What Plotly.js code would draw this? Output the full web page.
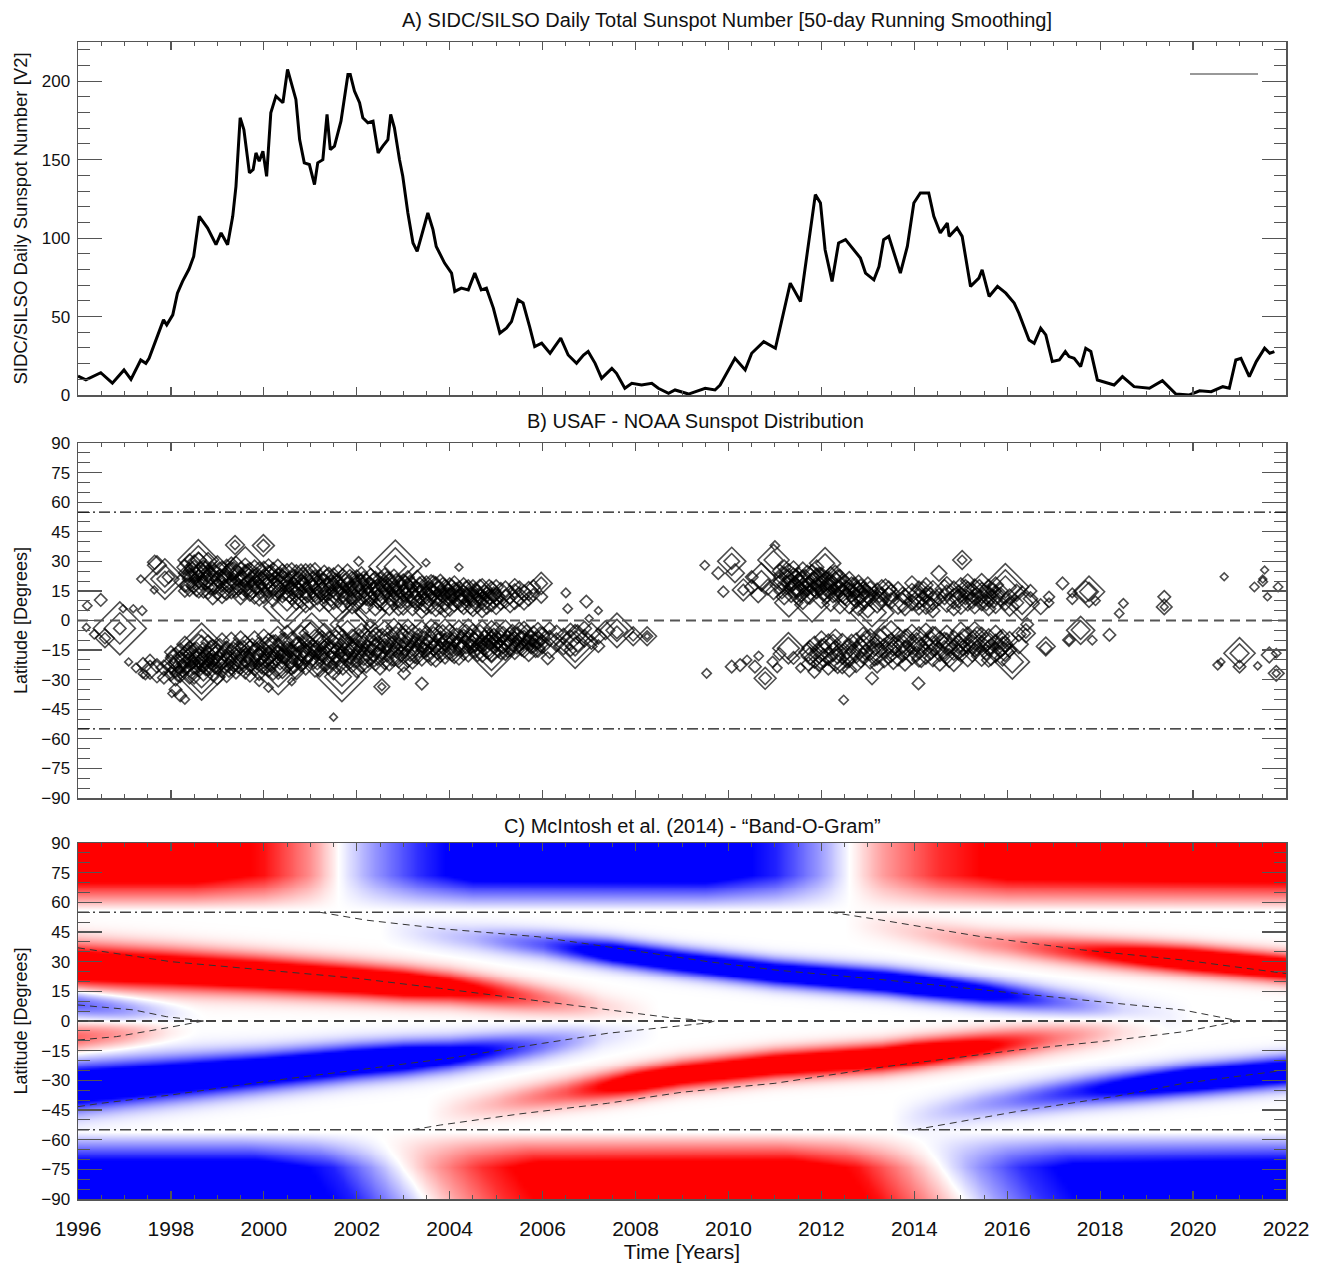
<!DOCTYPE html>
<html><head><meta charset="utf-8">
<script src="https://cdn.plot.ly/plotly-3.0.1.min.js"></script>
<style>html,body{margin:0;padding:0;background:#fff}#chart{width:1327px;height:1268px}</style>
</head><body><div id="chart"></div>
<script>
// ---------------- Panel A: SIDC/SILSO smoothed sunspot number ----------------
const ssnYear = [1996.0,1996.17,1996.49,1996.74,1996.99,1997.14,1997.35,1997.46,1997.53,1997.78,1997.84,1997.91,1998.04,1998.14,1998.25,1998.39,1998.49,1998.61,1998.79,1998.97,1999.08,1999.22,1999.33,1999.4,1999.49,1999.57,1999.69,1999.77,1999.83,1999.9,1999.98,2000.06,2000.15,2000.26,2000.41,2000.51,2000.59,2000.69,2000.77,2000.87,2000.98,2001.09,2001.16,2001.27,2001.36,2001.43,2001.52,2001.66,2001.81,2001.86,2001.95,2002.06,2002.13,2002.24,2002.35,2002.46,2002.56,2002.67,2002.73,2002.81,2002.92,2002.99,2003.1,2003.21,2003.3,2003.43,2003.53,2003.64,2003.71,2003.89,2004.04,2004.11,2004.25,2004.4,2004.54,2004.68,2004.79,2004.94,2005.08,2005.22,2005.33,2005.47,2005.58,2005.72,2005.83,2005.98,2006.16,2006.26,2006.39,2006.55,2006.73,2006.88,2006.98,2007.13,2007.27,2007.49,2007.59,2007.77,2007.92,2008.13,2008.35,2008.49,2008.71,2008.85,2009.14,2009.5,2009.71,2009.82,2010.14,2010.36,2010.5,2010.76,2011.01,2011.15,2011.33,2011.55,2011.69,2011.87,2011.98,2012.08,2012.23,2012.37,2012.52,2012.66,2012.84,2012.95,2013.13,2013.24,2013.34,2013.45,2013.59,2013.7,2013.85,2013.99,2014.13,2014.31,2014.42,2014.56,2014.71,2014.75,2014.92,2015.03,2015.21,2015.39,2015.46,2015.61,2015.79,2015.97,2016.15,2016.25,2016.47,2016.58,2016.72,2016.83,2016.97,2017.12,2017.25,2017.33,2017.44,2017.58,2017.69,2017.8,2017.94,2018.16,2018.3,2018.48,2018.73,2019.06,2019.34,2019.63,2019.92,2020.14,2020.39,2020.64,2020.78,2020.92,2021.03,2021.21,2021.36,2021.54,2021.65,2021.75];
const ssnValue = [12.1,9.6,14.2,7.5,16,10,22.3,20.2,23.4,43.6,47.9,44.7,51.1,64.9,72.4,80.3,88.3,113.9,106.4,95.8,103.3,95.8,113.9,133,176.7,169.2,141.6,143.7,154.3,149,155.4,139.4,179.9,190.5,186.3,207.5,199,188.4,162.8,148,146.9,134.1,148,150,178.8,156.4,158.6,174.5,204.3,204.3,193.7,186.3,176.7,173.5,174.5,154.3,158.6,162.8,178.8,170.3,150,139.4,116,96.9,91.5,105.4,116,105.4,94.7,84.1,77.7,66,68.1,67,77.7,67,68.1,55.4,39.4,42.6,46.8,60.7,58.6,43.6,30.8,33,26.6,30.8,36.2,25.5,20.2,25.5,27.7,20.2,10.6,17,13.8,4.3,7.5,6.4,7.5,4.3,1.1,3.2,0.6,4.3,3.2,6.4,23.4,16,26.6,34,29.8,47.9,71.3,59.6,90.5,127.7,122.4,92.6,72.4,96.9,99,93.7,87.3,77.7,73.4,81.9,99,101.1,88.3,77.7,94.7,122.4,128.8,128.8,113.9,103.3,109.6,101.1,106.4,101.1,69.2,74.5,79.8,62.8,69.2,64.9,58.6,52.2,35.1,33,42.6,38.3,21.3,22.3,27.7,24.5,23.4,18.1,29.8,27.7,9.6,7.9,6.4,11.7,5.3,4.3,9.1,0.6,0,2.7,2.1,5.3,4.3,22.3,23.4,11.7,21.3,29.8,26.6,27.7];

// ---------------- Panel B: USAF-NOAA sunspot groups [year, latitude, size] ----------------
const spotsNorth23 = [
[1998.30,27,10],[1998.30,20,14],[1998.30,15,8],[1998.40,29,12],[1998.40,23,9],[1998.40,17,12],
[1998.50,25,14],[1998.50,18,10],[1998.50,30,8],[1998.60,28,16],[1998.60,21,12],[1998.60,15,9],
[1998.70,24,10],[1998.70,17,14],[1998.70,27,9],[1998.80,30,11],[1998.80,22,15],[1998.80,14,8],
[1998.90,26,9],[1998.90,19,13],[1998.90,12,10],[1999.00,28,12],[1999.00,21,10],[1999.00,16,14],
[1999.10,24,15],[1999.10,18,9],[1999.10,13,11],[1999.20,27,10],[1999.20,20,13],[1999.20,14,9],
[1999.30,25,12],[1999.30,17,15],[1999.30,29,8],[1999.40,22,11],[1999.40,15,9],[1999.40,27,14],
[1999.50,26,9],[1999.50,19,14],[1999.50,12,10],[1999.60,23,13],[1999.60,16,10],[1999.60,28,9],
[1999.70,25,11],[1999.70,18,15],[1999.70,13,8],[1999.80,27,9],[1999.80,21,12],[1999.80,14,14],
[1999.90,24,14],[1999.90,17,10],[1999.90,11,9],[2000.00,26,10],[2000.00,19,13],[2000.00,13,11],
[2000.10,22,15],[2000.10,15,9],[2000.10,28,8],[2000.20,25,11],[2000.20,18,14],[2000.20,11,10],
[2000.30,23,9],[2000.30,16,12],[2000.30,27,10],[2000.40,20,14],[2000.40,13,10],[2000.40,25,9],
[2000.50,24,12],[2000.50,17,9],[2000.50,10,13],[2000.60,21,10],[2000.60,14,15],[2000.60,26,8],
[2000.70,23,13],[2000.70,16,10],[2000.70,9,9],[2000.80,19,11],[2000.80,12,14],[2000.80,25,9],
[2000.90,22,9],[2000.90,15,12],[2000.90,8,10],[2001.00,24,12],[2001.00,18,10],[2001.00,11,14],
[2001.10,20,14],[2001.10,13,9],[2001.10,26,8],[2001.20,22,10],[2001.20,16,13],[2001.20,9,11],
[2001.30,19,12],[2001.30,12,9],[2001.30,24,10],[2001.40,21,15],[2001.40,14,10],[2001.40,8,9],
[2001.50,23,9],[2001.50,17,13],[2001.50,10,11],[2001.60,19,11],[2001.60,12,14],[2001.60,25,8],
[2001.70,21,13],[2001.70,15,9],[2001.70,8,10],[2001.80,18,10],[2001.80,11,12],[2001.80,23,14],
[2001.90,20,12],[2001.90,14,15],[2001.90,7,9],[2002.00,22,9],[2002.00,16,11],[2002.00,10,13],
[2002.10,18,14],[2002.10,12,10],[2002.10,24,8],[2002.20,20,10],[2002.20,13,13],[2002.20,7,9],
[2002.30,17,12],[2002.30,11,9],[2002.30,22,11],[2002.40,19,15],[2002.40,13,10],[2002.40,6,9],
[2002.50,21,9],[2002.50,15,13],[2002.50,9,10],[2002.60,17,11],[2002.60,10,14],[2002.60,23,9],
[2002.70,19,13],[2002.70,13,9],[2002.70,7,11],[2002.80,16,10],[2002.80,10,12],[2002.80,22,10],
[2002.90,18,12],[2002.90,12,14],[2002.90,6,9],[2003.00,20,9],[2003.00,14,11],[2003.00,8,13],
[2003.10,16,13],[2003.10,10,9],[2003.10,22,8],[2003.20,18,10],[2003.20,12,13],[2003.20,6,9],
[2003.30,15,12],[2003.30,9,10],[2003.30,21,11],[2003.40,17,14],[2003.40,11,9],[2003.40,5,10],
[2003.50,19,9],[2003.50,13,12],[2003.50,7,10],[2003.60,15,11],[2003.60,9,14],[2003.60,20,8],
[2003.70,17,13],[2003.70,11,9],[2003.70,6,10],[2003.80,14,10],[2003.80,8,12],[2003.80,19,11],
[2003.90,16,12],[2003.90,10,14],[2003.90,5,9],[2004.00,18,9],[2004.00,12,11],[2004.00,7,12],
[2004.10,14,13],[2004.10,8,9],[2004.10,19,9],[2004.20,16,10],[2004.20,11,13],
[2004.30,13,12],[2004.30,7,10],[2004.30,18,9],[2004.40,15,14],[2004.40,10,9],
[2004.50,17,9],[2004.50,12,12],[2004.50,6,10],[2004.60,14,11],[2004.60,9,13],
[2004.70,16,13],[2004.70,11,9],[2004.70,5,9],[2004.80,13,10],[2004.80,8,12],
[2004.90,15,12],[2004.90,10,14],[2005.00,17,9],[2005.00,12,11],[2005.00,7,10],
[2005.10,14,13],[2005.10,9,9],[2005.20,16,10],[2005.20,11,12],[2005.30,13,12],[2005.30,8,10],
[2005.40,15,9],[2005.40,10,11],[2005.40,18,8],[2005.50,12,12],[2005.50,16,10],
[2005.60,14,10],[2005.60,9,9],[2005.70,11,9],[2005.70,15,12],[2005.80,13,8],[2005.80,17,9]
];
const spotsNorth23Core = [
[1998.35,24,11],[1998.35,18,9],[1998.45,21,12],[1998.45,26,9],[1998.55,23,10],[1998.55,17,12],[1998.65,25,12],[1998.65,19,9],
[1998.75,20,11],[1998.75,26,10],[1998.85,23,12],[1998.85,17,10],[1998.95,24,10],[1998.95,18,12],[1999.05,21,12],[1999.05,26,9],
[1999.15,22,10],[1999.15,16,12],[1999.25,24,12],[1999.25,18,10],[1999.35,20,10],[1999.35,25,12],[1999.45,23,12],[1999.45,17,10],
[1999.55,21,10],[1999.55,15,12],[1999.65,24,12],[1999.65,19,10],[1999.75,21,11],[1999.75,16,12],[1999.85,23,10],[1999.85,18,12],
[1999.95,20,12],[1999.95,15,10],[2000.05,22,10],[2000.05,17,12],[2000.15,19,12],[2000.15,24,10],[2000.25,21,10],[2000.25,15,12],
[2000.35,19,12],[2000.35,23,10],[2000.45,21,10],[2000.45,15,12],[2000.55,19,12],[2000.55,13,10],[2000.65,22,10],[2000.65,17,12],
[2000.75,20,12],[2000.75,15,10],[2000.85,18,10],[2000.85,22,12],[2000.95,19,12],[2000.95,13,10],[2001.05,21,10],[2001.05,16,12],
[2001.15,18,12],[2001.15,12,10],[2001.25,20,10],[2001.25,15,12],[2001.35,17,12],[2001.35,22,10],[2001.45,19,10],[2001.45,12,12],
[2001.55,15,12],[2001.55,20,10],[2001.65,17,10],[2001.65,13,12],[2001.75,19,12],[2001.75,12,10],[2001.85,16,10],[2001.85,21,12],
[2001.95,18,12],[2001.95,12,10],[2002.05,14,10],[2002.05,19,12],[2002.15,16,12],[2002.15,21,10],[2002.25,18,10],[2002.25,12,12],
[2002.35,15,12],[2002.35,20,10],[2002.45,17,10],[2002.45,11,12],[2002.55,13,12],[2002.55,18,10],[2002.65,15,10],[2002.65,20,12],
[2002.75,17,12],[2002.75,11,10],[2002.85,14,10],[2002.85,19,12],[2002.95,16,12],[2002.95,10,10],[2003.05,13,10],[2003.05,18,12],
[2003.15,14,12],[2003.15,19,10],[2003.25,16,10],[2003.25,11,12],[2003.35,13,12],[2003.35,18,10],[2003.45,15,10],[2003.45,9,12],
[2003.55,12,12],[2003.55,16,10],[2003.65,14,10],[2003.65,18,12],[2003.75,12,12],[2003.75,16,10],[2003.85,13,10],[2003.85,17,12],
[2003.95,12,12],[2003.95,15,10],[2004.05,13,10],[2004.05,16,12],[2004.15,11,12],[2004.15,15,10],[2004.25,13,10],[2004.25,9,12],
[2004.35,12,12],[2004.35,16,10],[2004.45,13,10],[2004.45,8,12],[2004.55,11,12],[2004.55,15,10],[2004.65,12,10],[2004.65,16,12],
[2004.75,10,12],[2004.75,14,10],[2004.85,12,10],[2004.85,16,12],[2004.95,11,12],[2004.95,13,10]
];
const spotsNorth23Extra = [
[1996.2,7.5,6],[1996.49,10.4,8],[1996.97,6,5],[1997.19,6,5],[1997.38,5,6],[1997.35,21,5],[1997.64,15.5,5],
[1997.65,29.5,9],[1997.7,28,12],[1997.87,21,10],[1997.87,21,18],[1997.87,21,26],[1997.95,22,8],
[1998.59,30.7,10],[1998.59,30.7,18],[1998.59,30.7,26],[1999.38,38.3,12],[1999.38,38.3,6],
[1999.99,38,8],[1999.99,38,14],[2000.46,7,18],[2000.46,7,28],[1999.6,27,26],[2000.9,20,22],
[2001.6,9,24],[2002.3,4,20],[2002.83,27.3,14],[2002.83,27.3,24],[2002.83,27.3,34],
[2002.04,30,6],[2003.49,29.3,5],[2004.2,27,5],[2005.97,18.8,8],[2005.97,18.8,14],[2005.97,12,8],
[2006.54,6,6],[2006.94,9.6,8],[2007.2,5,5],[2007.0,1,5],[2006.5,14,6]
];
const spotsSouth23 = [
[1997.40,-22,8],[1997.40,-27,6],[1997.55,-25,12],[1997.55,-20,7],[1997.70,-26,14],[1997.70,-23,9],
[1997.85,-24,10],[1997.85,-29,8],[1998.00,-22,12],[1998.00,-27,9],[1998.00,-16,8],
[1998.10,-25,10],[1998.10,-19,13],[1998.10,-30,8],[1998.20,-21,14],[1998.20,-15,9],[1998.20,-27,11],
[1998.30,-24,9],[1998.30,-18,12],[1998.30,-12,10],[1998.40,-27,13],[1998.40,-20,10],[1998.40,-14,9],
[1998.50,-23,11],[1998.50,-17,14],[1998.50,-29,8],[1998.60,-25,9],[1998.60,-19,12],[1998.60,-12,13],
[1998.70,-21,14],[1998.70,-15,10],[1998.70,-27,9],[1998.80,-24,10],[1998.80,-18,13],[1998.80,-11,9],
[1998.90,-26,12],[1998.90,-20,9],[1998.90,-14,11],[1999.00,-22,13],[1999.00,-16,10],[1999.00,-29,9],
[1999.10,-25,10],[1999.10,-19,14],[1999.10,-10,9],[1999.20,-21,12],[1999.20,-14,9],[1999.20,-27,11],
[1999.30,-24,9],[1999.30,-17,13],[1999.30,-10,10],[1999.40,-20,14],[1999.40,-13,10],[1999.40,-26,9],
[1999.50,-23,11],[1999.50,-16,13],[1999.50,-9,9],[1999.60,-26,9],[1999.60,-19,12],[1999.60,-12,11],
[1999.70,-21,13],[1999.70,-14,10],[1999.70,-28,8],[1999.80,-24,10],[1999.80,-17,14],[1999.80,-9,9],
[1999.90,-19,12],[1999.90,-12,9],[1999.90,-26,11],[2000.00,-22,14],[2000.00,-15,10],[2000.00,-8,9],
[2000.10,-25,9],[2000.10,-18,13],[2000.10,-11,11],[2000.20,-20,11],[2000.20,-13,14],[2000.20,-27,8],
[2000.30,-23,13],[2000.30,-16,9],[2000.30,-7,10],[2000.40,-18,10],[2000.40,-11,12],[2000.40,-25,11],
[2000.50,-21,14],[2000.50,-14,10],[2000.50,-6,9],[2000.60,-24,9],[2000.60,-17,13],[2000.60,-10,11],
[2000.70,-19,12],[2000.70,-12,9],[2000.70,-26,10],[2000.80,-22,10],[2000.80,-15,14],[2000.80,-6,9],
[2000.90,-17,13],[2000.90,-10,10],[2000.90,-24,9],[2001.00,-20,11],[2001.00,-13,12],[2001.00,-5,10],
[2001.10,-23,14],[2001.10,-16,9],[2001.10,-9,11],[2001.20,-18,10],[2001.20,-11,13],[2001.20,-25,9],
[2001.30,-21,12],[2001.30,-14,10],[2001.30,-5,9],[2001.40,-16,14],[2001.40,-9,9],[2001.40,-23,11],
[2001.50,-19,9],[2001.50,-12,12],[2001.50,-26,10],[2001.60,-22,13],[2001.60,-15,10],[2001.60,-6,9],
[2001.70,-17,11],[2001.70,-10,14],[2001.70,-24,9],[2001.80,-20,10],[2001.80,-13,12],[2001.80,-4,10],
[2001.90,-15,13],[2001.90,-8,9],[2001.90,-22,11],[2002.00,-18,9],[2002.00,-11,12],[2002.00,-25,10],
[2002.10,-21,14],[2002.10,-14,10],[2002.10,-5,9],[2002.20,-16,11],[2002.20,-9,13],[2002.20,-23,9],
[2002.30,-19,10],[2002.30,-12,12],[2002.30,-3,9],[2002.40,-14,13],[2002.40,-7,9],[2002.40,-21,11],
[2002.50,-17,9],[2002.50,-10,14],[2002.50,-24,9],[2002.60,-20,12],[2002.60,-13,10],[2002.60,-4,10],
[2002.70,-15,10],[2002.70,-8,13],[2002.70,-22,9],[2002.80,-18,13],[2002.80,-11,9],[2002.80,-3,10],
[2002.90,-13,11],[2002.90,-6,12],[2002.90,-20,10],[2003.00,-16,9],[2003.00,-9,13],[2003.00,-23,8],
[2003.10,-19,12],[2003.10,-12,10],[2003.10,-3,9],[2003.20,-14,10],[2003.20,-7,13],[2003.20,-21,9],
[2003.30,-17,13],[2003.30,-10,9],[2003.40,-12,11],[2003.40,-5,12],[2003.40,-19,10],
[2003.50,-15,9],[2003.50,-8,13],[2003.60,-18,12],[2003.60,-11,10],[2003.60,-3,9],
[2003.70,-13,10],[2003.70,-6,13],[2003.70,-20,9],[2003.80,-16,13],[2003.80,-9,9],
[2003.90,-11,11],[2003.90,-4,12],[2003.90,-18,10],[2004.00,-14,9],[2004.00,-7,13],
[2004.10,-17,12],[2004.10,-10,10],[2004.20,-12,10],[2004.20,-5,13],[2004.20,-19,9],
[2004.30,-15,13],[2004.30,-8,9],[2004.40,-10,11],[2004.40,-4,12],[2004.40,-17,10],
[2004.50,-13,9],[2004.50,-7,13],[2004.60,-16,12],[2004.60,-9,10],[2004.70,-11,10],[2004.70,-5,13],[2004.70,-18,8],
[2004.80,-14,13],[2004.80,-7,9],[2004.90,-10,11],[2004.90,-16,12],[2004.90,-4,10],
[2005.00,-12,9],[2005.00,-6,13],[2005.10,-15,12],[2005.10,-9,10],[2005.20,-11,10],[2005.20,-5,13],[2005.20,-17,8],
[2005.30,-13,13],[2005.30,-7,9],[2005.40,-10,11],[2005.40,-15,12],[2005.50,-12,9],[2005.50,-6,13],
[2005.60,-14,12],[2005.60,-9,10],[2005.60,-4,9],[2005.70,-11,10],[2005.70,-16,12],[2005.80,-8,13],[2005.80,-13,9],
[2005.90,-10,11],[2005.90,-5,10],[2005.90,-15,9],[2006.00,-12,12],[2006.00,-7,9],
[2006.15,-9,10],[2006.15,-14,13],[2006.15,-4,8],[2006.30,-11,12],[2006.30,-6,9],
[2006.45,-8,10],[2006.45,-13,11],[2006.60,-10,13],[2006.60,-5,9],[2006.60,-15,8],
[2006.75,-12,10],[2006.75,-7,12],[2006.90,-9,11],[2006.90,-4,9],[2007.05,-11,9],[2007.05,-6,12],
[2007.20,-8,10],[2007.20,-13,8],[2007.35,-5,12],[2007.60,-5,14],[2007.60,-5,22],[2007.60,-6,8],
[2007.95,-8,12],[2007.95,-8,6],[2008.25,-8,12],[2008.25,-8,7],[2008.25,-8,4]
];
const spotsSouth23Core = [
[1998.05,-23,11],[1998.05,-18,9],[1998.15,-22,12],[1998.15,-27,10],[1998.25,-20,10],[1998.25,-24,12],[1998.35,-22,12],[1998.35,-16,10],
[1998.45,-21,10],[1998.45,-25,12],[1998.55,-20,12],[1998.55,-15,10],[1998.65,-22,10],[1998.65,-18,12],[1998.75,-19,12],[1998.75,-24,10],
[1998.85,-21,10],[1998.85,-15,12],[1998.95,-18,12],[1998.95,-23,10],[1999.05,-20,10],[1999.05,-14,12],[1999.15,-22,12],[1999.15,-17,10],
[1999.25,-19,10],[1999.25,-24,12],[1999.35,-21,12],[1999.35,-15,10],[1999.45,-18,10],[1999.45,-22,12],[1999.55,-20,12],[1999.55,-14,10],
[1999.65,-17,10],[1999.65,-23,12],[1999.75,-19,12],[1999.75,-13,10],[1999.85,-21,10],[1999.85,-16,12],[1999.95,-18,12],[1999.95,-23,10],
[2000.05,-20,10],[2000.05,-13,12],[2000.15,-17,12],[2000.15,-22,10],[2000.25,-19,10],[2000.25,-12,12],[2000.35,-16,12],[2000.35,-21,10],
[2000.45,-18,10],[2000.45,-11,12],[2000.55,-20,12],[2000.55,-15,10],[2000.65,-16,10],[2000.65,-22,12],[2000.75,-18,12],[2000.75,-12,10],
[2000.85,-15,10],[2000.85,-20,12],[2000.95,-17,12],[2000.95,-11,10],[2001.05,-19,10],[2001.05,-14,12],[2001.15,-15,12],[2001.15,-21,10],
[2001.25,-17,10],[2001.25,-10,12],[2001.35,-18,12],[2001.35,-13,10],[2001.45,-15,10],[2001.45,-20,12],[2001.55,-17,12],[2001.55,-9,10],
[2001.65,-13,10],[2001.65,-19,12],[2001.75,-16,12],[2001.75,-11,10],[2001.85,-18,10],[2001.85,-13,12],[2001.95,-14,12],[2001.95,-20,10],
[2002.05,-16,10],[2002.05,-9,12],[2002.15,-18,12],[2002.15,-12,10],[2002.25,-14,10],[2002.25,-19,12],[2002.35,-16,12],[2002.35,-9,10],
[2002.45,-12,10],[2002.45,-18,12],[2002.55,-15,12],[2002.55,-8,10],[2002.65,-17,10],[2002.65,-11,12],[2002.75,-13,12],[2002.75,-19,10],
[2002.85,-15,10],[2002.85,-8,12],[2002.95,-11,12],[2002.95,-17,10],[2003.05,-14,10],[2003.05,-7,12],[2003.15,-16,12],[2003.15,-10,10],
[2003.25,-12,10],[2003.25,-17,12],[2003.35,-14,12],[2003.35,-8,10],[2003.45,-15,10],[2003.45,-10,12],[2003.55,-12,12],[2003.55,-17,10],
[2003.65,-14,10],[2003.65,-8,12],[2003.75,-11,12],[2003.75,-16,10],[2003.85,-13,10],[2003.85,-7,12],[2003.95,-15,12],[2003.95,-10,10],
[2004.05,-11,10],[2004.05,-16,12],[2004.15,-13,12],[2004.15,-8,10],[2004.25,-14,10],[2004.25,-10,12],[2004.35,-12,12],[2004.35,-6,10],
[2004.45,-13,10],[2004.45,-9,12],[2004.55,-11,12],[2004.55,-15,10],[2004.65,-12,10],[2004.65,-7,12],[2004.75,-13,12],[2004.75,-9,10],
[2004.85,-11,10],[2004.85,-15,12],[2004.95,-12,12],[2004.95,-8,10],[2005.05,-10,10],[2005.05,-14,12],[2005.15,-12,12],[2005.15,-7,10],
[2005.25,-9,10],[2005.25,-14,12],[2005.35,-11,12],[2005.35,-6,10],[2005.45,-13,10],[2005.45,-8,12],[2005.55,-10,12],[2005.55,-14,10],
[2005.65,-11,10],[2005.65,-7,12],[2005.75,-12,12],[2005.75,-9,10],[2005.85,-10,10],[2005.85,-14,12],[2005.95,-8,12],[2005.95,-12,10]
];
const spotsSouth23Extra = [
[1996.18,-3.5,5],[1996.35,-7,6],[1996.58,-9,12],[1996.58,-9,7],[1996.9,-4,8],[1996.9,-4,20],[1996.9,-4,34],
[1997.09,-21,5],[1997.25,-24,6],[1997.45,-27.6,6],[1998.1,-35,8],[1998.2,-38,8],[1998.3,-40,6],[1998.02,-37,5],
[1998.66,-12.4,12],[1998.66,-12.4,20],[1998.66,-12.4,28],[1998.66,-28.5,14],[1998.66,-28.5,22],[1998.66,-28.5,30],
[2000.31,-23.4,16],[2000.31,-23.4,26],[2000.31,-23.4,36],[2001.68,-28.5,12],[2001.68,-28.5,22],[2001.68,-28.5,32],
[2001.03,-6.5,16],[2001.03,-6.5,26],[2001.9,-2,20],[2001.9,-2,28],
[2004.9,-16.6,12],[2004.9,-16.6,22],[2004.9,-16.6,30],[2006.7,-13.2,12],[2006.7,-13.2,20],[2006.7,-13.2,28],
[2002.54,-33.6,10],[2002.54,-33.6,5],[2001.5,-49,5],[2000.1,-34,6],[2003.4,-32,8],[2006.11,-19.2,8],
[2003.02,-26.8,8],[1999.9,-31,6],[2000.6,-31,5]
];
const spotsNorth24 = [
[2009.49,28,6],[2009.78,24,8],[2009.89,14.6,7],[2010.07,30,10],[2010.07,30,18],[2010.14,24,12],
[2010.32,15.5,14],[2010.32,15.5,7],[2010.5,22,8],[2010.5,17,9],[2010.64,13,10],[2010.71,20.5,12],[2010.71,22,18],
[2010.85,17,10],[2010.97,30.7,12],[2010.97,30.7,20],[2010.97,14.6,10],[2011.0,38,6],
[2011.10,25,9],[2011.10,18,12],[2011.20,22,13],[2011.20,12,10],[2011.20,27,9],
[2011.30,19,10],[2011.30,9,18],[2011.30,24,12],[2011.40,16,12],[2011.40,21,14],[2011.40,27,8],
[2011.50,23,10],[2011.50,13,13],[2011.50,18,15],[2011.60,20,14],[2011.60,26,9],[2011.60,10,11],
[2011.70,17,12],[2011.70,22,15],[2011.70,12,9],[2011.80,24,11],[2011.80,19,13],[2011.80,8,22],
[2011.90,21,14],[2011.90,15,10],[2011.90,27,9],[2012.00,18,13],[2012.00,23,10],[2012.00,11,12],
[2012.10,20,12],[2012.10,14,14],[2012.08,29,20],[2012.08,29,12],[2012.20,17,10],[2012.20,22,13],[2012.20,9,11],
[2012.30,19,14],[2012.30,13,9],[2012.30,24,10],[2012.40,16,11],[2012.40,21,12],[2012.40,7,9],
[2012.50,18,13],[2012.50,12,10],[2012.60,15,10],[2012.60,20,12],[2012.60,9,14],
[2012.70,17,12],[2012.70,11,9],[2012.80,14,14],[2012.80,19,10],[2012.80,6,9],
[2012.90,16,9],[2012.90,10,12],[2013.00,13,12],[2013.00,18,10],[2013.00,5,9],
[2013.09,4,18],[2013.09,4,28],[2013.20,15,10],[2013.20,9,13],[2013.30,12,12],[2013.30,17,9],
[2013.38,15.5,14],[2013.50,10,10],[2013.50,14,11],[2013.65,8,12],[2013.65,16,9],[2013.80,12,10],[2013.80,6,9],
[2013.95,14,12],[2013.95,9,10],[2013.95,19,9],[2014.10,11,13],[2014.10,16,10],[2014.10,6,8],
[2014.25,13,10],[2014.25,8,12],[2014.25,18,9],[2014.40,10,12],[2014.40,15,13],[2014.40,5,9],
[2014.53,23.9,10],[2014.53,12,11],[2014.70,14,10],[2014.70,9,12],[2014.70,19,8],
[2014.85,11,13],[2014.85,6,9],[2014.85,16,10],[2015.03,30.7,12],[2015.03,30.7,6],
[2015.00,13,10],[2015.00,8,12],[2015.00,18,9],[2015.15,15,12],[2015.15,10,13],[2015.15,20,9],
[2015.30,12,11],[2015.30,17,10],[2015.30,7,9],[2015.45,14,13],[2015.45,9,10],[2015.45,19,12],
[2015.60,11,10],[2015.60,16,12],[2015.60,6,9],[2015.75,13,12],[2015.75,18,10],[2015.75,8,11],
[2015.96,17,14],[2015.96,17,22],[2015.96,17,30],[2016.05,12,10],[2016.05,7,12],[2016.20,14,11],[2016.20,9,9],
[2016.32,8.7,14],[2016.32,8.7,22],[2016.50,11,9],[2016.50,15,8],[2016.72,7,10],[2016.90,12,7],[2016.90,9,6],
[2017.19,18.8,8],[2017.40,11,7],[2017.40,14,6],[2017.69,14.6,14],[2017.76,14.6,20],[2017.76,14.6,12],
[2017.90,10,6],[2018.41,3.6,6],[2018.5,8.7,6],[2019.38,6.9,10],[2019.38,6.9,5],[2019.38,12,8],
[2020.67,22.2,5],[2021.32,17,6],[2021.5,19.7,6],[2021.5,21,5],[2021.54,25.6,5],[2021.6,12,5],[2021.83,17,6]
];
const spotsNorth24Core = [
[2011.15,20,11],[2011.15,15,10],[2011.25,18,12],[2011.25,22,10],[2011.35,20,10],[2011.35,14,12],[2011.45,17,12],[2011.45,22,10],
[2011.55,19,10],[2011.55,14,12],[2011.65,21,12],[2011.65,16,10],[2011.75,18,10],[2011.75,13,12],[2011.85,20,12],[2011.85,16,10],
[2011.95,17,10],[2011.95,22,12],[2012.05,19,12],[2012.05,14,10],[2012.15,15,10],[2012.15,20,12],[2012.25,18,12],[2012.25,13,10],
[2012.35,16,10],[2012.35,21,12],[2012.45,14,12],[2012.45,18,10],[2012.55,16,10],[2012.55,12,12],[2012.65,14,12],[2012.65,18,10],
[2012.75,16,10],[2012.75,11,12],[2012.85,13,12],[2012.85,17,10],[2012.95,15,10],[2012.95,11,12],[2013.05,12,12],[2013.05,16,10],
[2013.25,13,10],[2013.25,10,12],[2013.45,12,12],[2013.45,16,10],[2013.75,13,10],[2013.75,9,12],[2014.05,13,12],[2014.05,9,10],
[2014.2,11,10],[2014.2,15,12],[2014.35,12,12],[2014.35,8,10],[2014.65,12,10],[2014.65,16,12],[2014.95,11,12],[2014.95,14,10],
[2015.1,12,10],[2015.1,16,12],[2015.25,14,12],[2015.25,10,10],[2015.4,11,10],[2015.4,16,12],[2015.55,13,12],[2015.55,9,10],
[2015.7,15,10],[2015.7,11,12],[2015.85,12,12],[2015.85,15,10]
];
const spotsSouth24 = [
[2009.53,-26.8,6],[2010.07,-23.4,8],[2010.25,-22.6,8],[2010.4,-20,6],[2010.57,-23.4,8],[2010.65,-18,6],
[2010.79,-29.3,14],[2010.79,-29.3,8],[2010.95,-21,7],[2011.05,-24,6],[2011.10,-17,8],
[2011.29,-14.1,14],[2011.29,-14.1,20],[2011.40,-19,8],[2011.55,-24,6],
[2011.72,-16,12],[2011.72,-22,9],[2011.85,-12,10],[2011.85,-19,13],[2011.85,-26,8],
[2012.00,-15,14],[2012.00,-21,10],[2012.00,-9,9],[2012.15,-18,12],[2012.15,-24,9],[2012.15,-12,13],
[2012.30,-14,10],[2012.30,-20,14],[2012.30,-8,9],[2012.45,-17,13],[2012.45,-23,10],[2012.45,-11,11],
[2012.48,-40.3,6],[2012.60,-13,10],[2012.60,-19,12],[2012.60,-25,9],[2012.75,-16,14],[2012.75,-10,9],[2012.75,-22,11],
[2012.90,-12,12],[2012.90,-18,10],[2012.90,-7,9],[2013.05,-15,13],[2013.05,-21,9],[2013.05,-9,12],
[2013.09,-29.3,8],[2013.20,-11,10],[2013.20,-17,14],[2013.20,-23,9],[2013.35,-14,12],[2013.35,-8,13],[2013.35,-20,10],
[2013.50,-10,9],[2013.50,-16,13],[2013.50,-5,12],[2013.65,-13,14],[2013.65,-19,10],[2013.65,-7,9],
[2013.80,-9,11],[2013.80,-15,12],[2013.80,-22,9],[2013.95,-12,13],[2013.95,-6,10],[2013.95,-18,11],
[2014.09,-31.9,8],[2014.10,-8,12],[2014.10,-14,14],[2014.10,-20,9],[2014.25,-11,10],[2014.25,-17,13],[2014.25,-5,9],
[2014.40,-13,13],[2014.40,-7,10],[2014.40,-19,11],[2014.55,-10,11],[2014.55,-16,12],[2014.55,-22,9],
[2014.70,-12,14],[2014.70,-6,9],[2014.70,-18,10],[2014.85,-9,10],[2014.85,-15,13],[2014.85,-21,12],
[2015.00,-11,12],[2015.00,-17,10],[2015.00,-6,13],[2015.15,-13,10],[2015.15,-8,12],[2015.15,-19,11],
[2015.30,-10,13],[2015.30,-15,9],[2015.30,-5,11],[2015.45,-12,11],[2015.45,-18,13],[2015.45,-7,9],
[2015.60,-9,12],[2015.60,-14,10],[2015.60,-20,9],[2015.75,-11,10],[2015.75,-16,13],[2015.75,-6,9],
[2015.90,-13,12],[2015.90,-8,9],[2015.90,-19,10],[2016.05,-10,11],[2016.05,-15,9],
[2016.11,-21,14],[2016.11,-21,22],[2016.25,-12,12],[2016.25,-7,9],[2016.40,-6.5,12],[2016.40,-6.5,6],[2016.43,-2,8],
[2016.83,-13.2,12],[2016.83,-14,8],[2017.33,-9.9,8],[2017.33,-10,6],[2017.58,-4.8,12],[2017.58,-5,18],
[2017.83,-10,6],[2018.20,-7.3,8],[2020.53,-22.6,6],[2020.6,-21,5],
[2021.00,-16.6,12],[2021.00,-16.6,20],[2021.00,-23.4,8],[2021.39,-23,5],[2021.64,-17.5,10],
[2021.79,-26.8,10],[2021.79,-26.8,5],[2021.79,-16.6,6]
];
const spotsSouth24Core = [
[2011.75,-18,11],[2011.75,-14,10],[2011.95,-17,12],[2011.95,-22,10],[2012.05,-13,10],[2012.05,-19,12],[2012.25,-16,12],[2012.25,-11,10],
[2012.35,-18,10],[2012.35,-22,12],[2012.55,-15,12],[2012.55,-20,10],[2012.65,-11,10],[2012.65,-17,12],[2012.85,-14,12],[2012.85,-20,10],
[2012.95,-16,10],[2012.95,-10,12],[2013.15,-13,12],[2013.15,-19,10],[2013.25,-15,10],[2013.25,-9,12],[2013.45,-12,12],[2013.45,-18,10],
[2013.55,-14,10],[2013.55,-20,12],[2013.75,-12,12],[2013.75,-17,10],[2013.85,-14,10],[2013.85,-9,12],[2014.05,-11,12],[2014.05,-17,10],
[2014.15,-13,10],[2014.15,-19,12],[2014.35,-10,12],[2014.35,-16,10],[2014.45,-14,10],[2014.45,-8,12],[2014.65,-15,12],[2014.65,-10,10],
[2014.75,-13,10],[2014.75,-19,12],[2014.95,-12,12],[2014.95,-16,10],[2015.05,-14,10],[2015.05,-9,12],[2015.25,-12,12],[2015.25,-17,10],
[2015.35,-14,10],[2015.35,-8,12],[2015.55,-11,12],[2015.55,-16,10],[2015.65,-13,10],[2015.65,-18,12],[2015.85,-10,12],[2015.85,-15,10],
[2015.95,-12,10],[2015.95,-16,12]
];

// ---------------- Panel C: band-o-gram band paths ----------------
const dashN0T=[1996,1997.2,1997.9,1998.7], dashN0Lat=[8.1,5.6,2.2,0];
const dashS0T=[1996,1996.83,1997.9,1998.7], dashS0Lat=[-9.6,-7.9,-3.5,0];
const dashN1T=[1996,1998,2000,2002,2003.8,2006,2007.4,2008.8,2009.65], dashN1Lat=[37,30,25.8,21.6,16.5,9.8,5.6,1.5,0];
const dashS1T=[1996,1996.5,1998,2000,2002,2004,2006,2007.4,2009.56,2009.7], dashS1Lat=[-43.3,-41.6,-37.4,-30.7,-24.8,-18.8,-11.3,-6.2,-1,0];
const dashN2T=[2001.2,2002.2,2003.9,2005.9,2007.4,2009.56,2011,2013.4,2016.2,2018.35,2019.8,2021], dashN2Lat=[55,51,46.5,42.6,37.5,30,25.8,20.7,14,9,5.5,0];
const dashS2T=[2003.2,2003.8,2005.5,2007.4,2009,2011,2013.4,2016.2,2018.35,2019.8,2021], dashS2Lat=[-55,-52.6,-47,-41.6,-36,-31.5,-23,-14.7,-9.6,-5.4,0];
const dashN3T=[2012.2,2013.3,2015.45,2017.6,2019.8,2022], dashN3Lat=[55,51,42.6,36,30.8,24];
const dashS3T=[2014.0,2016.2,2018.35,2019.8,2022], dashS3Lat=[-55,-45.8,-38,-31.5,-24.8];

// coloured band centres, amplitude envelopes and widths
const bandN0 = {sign:-1, t:[1996,1997,1998,1998.8], lat:[9,6,3,0], at:[1996,1997,1998,1998.8], a:[0.42,0.28,0.1,0], sig:5};
const bandS0 = {sign: 1, t:[1996,1997,1998,1998.8], lat:[-8,-6,-3,0], at:[1996,1997,1998,1998.8], a:[0.38,0.25,0.08,0], sig:5};
const bandN1 = {sign: 1, t:[1996,1998,2000,2002,2004,2006,2008,2009.7], lat:[28,26,23.5,20.5,17,11,5,0], at:[1996,2003,2004.5,2006,2007.3,2008.5], a:[1,1,0.7,0.35,0.1,0], st:[1996,2000,2004,2008], sv:[7.5,6.5,5.5,4.5]};
const bandS1 = {sign:-1, t:[1996,1998,2000,2002,2004,2006,2008,2009.7], lat:[-33,-29,-25,-20.5,-17,-11.5,-5,0], at:[1996,2003,2004.5,2006,2007.3,2008.5], a:[1,1,0.7,0.35,0.08,0], st:[1996,2000,2004,2008], sv:[8,6.5,5.5,4.5]};
const bandN2 = {sign:-1, t:[2002,2004,2006,2007.4,2009,2011,2013.4,2016.2,2018.3,2020,2021], lat:[48,43,39,35,30,24.5,20,12.3,6.5,2,0], at:[2002.5,2004.5,2006,2007.5,2014,2015.5,2017,2018.5,2020], a:[0,0.18,0.42,0.85,1,0.78,0.38,0.1,0], sig:4.6};
const bandS2 = {sign: 1, t:[2003,2004,2006,2007.4,2009,2011,2013.3,2016.2,2018.3,2020,2021], lat:[-50,-45,-38,-33,-27,-22,-18.5,-10.5,-5,-1.5,0], at:[2003.5,2005,2006.5,2008,2014,2015.5,2017,2018.5,2019.5], a:[0,0.18,0.42,0.85,1,0.7,0.33,0.08,0], sig:5};
const bandN3 = {sign: 1, t:[2012.5,2013.5,2015.5,2017.6,2019.8,2022], lat:[50,47,40,35.5,31.5,27], at:[2012.5,2014,2016,2017.5,2019,2020,2022], a:[0,0.12,0.3,0.55,0.85,1,1], sig:4.8};
const bandS3 = {sign:-1, t:[2013.5,2015.5,2017.6,2019.8,2022], lat:[-50,-42,-35.5,-30,-25.5], at:[2013.5,2014.5,2016,2017.5,2019,2020,2022], a:[0,0.12,0.3,0.55,0.85,1,1], sig:5.2};
// polar caps (|lat| > 55)
const capNT=[1996,1998.5,2000.0,2001.0,2001.6,2002.3,2003.3,2004.5,2009.5,2011.0,2012.0,2012.6,2013.3,2014.5,2016.0,2022];
const capNV=[1,1,0.75,0.35,0,-0.3,-0.65,-0.95,-1,-0.7,-0.3,0,0.3,0.65,0.9,1];
const capST=[1996,2000.0,2001.5,2002.4,2003.0,2003.7,2004.7,2006.0,2011.5,2012.8,2013.8,2014.6,2015.3,2016.3,2017.5,2022];
const capSV=[-1,-1,-0.7,-0.3,0,0.3,0.65,0.95,1,0.75,0.35,0,-0.3,-0.65,-0.9,-1];

// ---------------- helpers ----------------
function interp(xs, ys, x){
  if (x <= xs[0]) return ys[0];
  const n = xs.length;
  if (x >= xs[n-1]) return ys[n-1];
  for (let i=1;i<n;i++){ if (x <= xs[i]){ const f=(x-xs[i-1])/(xs[i]-xs[i-1]); return ys[i-1]+f*(ys[i]-ys[i-1]); } }
  return ys[n-1];
}
const bands=[bandN0,bandS0,bandN1,bandS1,bandN2,bandS2,bandN3,bandS3];
const hmT=[]; for(let i=0;i<=260;i++) hmT.push(1996+i/10);
const hmLat=[]; for(let l=-90;l<=90;l++) hmLat.push(l);
const hmZ = hmLat.map(lat => hmT.map(t => {
  let v=0;
  for (const b of bands){
    if (t < b.t[0]-1e-6 || t > b.t[b.t.length-1]+1e-6) continue;
    const A = interp(b.at,b.a,t); if (A<=0) continue;
    const c = interp(b.t,b.lat,t);
    const s = b.sv ? interp(b.st,b.sv,t) : b.sig;
    v += b.sign*1.6*A*Math.exp(-((lat-c)*(lat-c))/(2*s*s));
  }
  const al=Math.abs(lat);
  if (al>56){
    const r=Math.min(1,(al-56)/18);
    const cap = lat>0 ? interp(capNT,capNV,t) : interp(capST,capSV,t-0.9*(al-75)/30);
    v += 1.25*cap*r;
  }
  return Math.max(-1,Math.min(1,v));
}));

// ---------------- traces ----------------
const FONT='Liberation Sans, Arial, Helvetica, sans-serif';
const allSpots=[].concat(spotsNorth23,spotsNorth23Core,spotsNorth23Extra,spotsSouth23,spotsSouth23Core,spotsSouth23Extra,spotsNorth24,spotsNorth24Core,spotsSouth24,spotsSouth24Core);
const traces=[];
traces.push({type:'scatter',mode:'lines',x:ssnYear,y:ssnValue,xaxis:'x',yaxis:'y',
  line:{color:'#000',width:3},hoverinfo:'skip',showlegend:false});
traces.push({type:'scatter',mode:'markers',x:allSpots.map(p=>p[0]),y:allSpots.map(p=>p[1]),xaxis:'x2',yaxis:'y2',
  marker:{symbol:'diamond-open',color:'#000',size:allSpots.map(p=>p[2]*1.2),line:{width:1.6,color:'#000'}},showlegend:false,hoverinfo:'skip'});
traces.push({type:'heatmap',x:hmT,y:hmLat,z:hmZ,xaxis:'x3',yaxis:'y3',zmin:-1,zmax:1,zsmooth:'best',showscale:false,
  colorscale:[[0,'rgb(0,0,255)'],[0.5,'rgb(255,255,255)'],[1,'rgb(255,0,0)']],hoverinfo:'skip'});
[[dashN0T,dashN0Lat],[dashS0T,dashS0Lat],[dashN1T,dashN1Lat],[dashS1T,dashS1Lat],[dashN2T,dashN2Lat],[dashS2T,dashS2Lat],[dashN3T,dashN3Lat],[dashS3T,dashS3Lat]].forEach(d=>{
  traces.push({type:'scatter',mode:'lines',x:d[0],y:d[1],xaxis:'x3',yaxis:'y3',line:{color:'#333',width:1,dash:'7px,5px'},showlegend:false,hoverinfo:'skip'});
});

// ---------------- layout ----------------
const L=78,R=41,T=42,B=69, PW=1327-L-R, PH=1268-T-B;
const px=x=>(x-L)/PW, py=y=>(1199-y)/PH;
function xAxis(anchor, labels){
  return {anchor:anchor, domain:[0,1], range:[1996,2022], tick0:1996, dtick:2, ticks:'inside', ticklen:8, tickwidth:1.2,
    tickcolor:'#555', showline:true, linecolor:'#555', linewidth:1.5, mirror:'ticks', showgrid:false, zeroline:false,
    minor:{dtick:0.5, tick0:1996, ticks:'inside', ticklen:4, tickwidth:1, tickcolor:'#555', showgrid:false},
    showticklabels:labels, tickfont:{family:FONT,size:21,color:'#111'}, ticklabelstandoff:10};
}
function yAxis(anchor, dom, range, dtick, mdtick, title, tsize){
  return {anchor:anchor, domain:dom, range:range, tick0:0, dtick:dtick, ticks:'inside', ticklen:24, tickwidth:1.2,
    tickcolor:'#555', showline:true, linecolor:'#555', linewidth:1.5, mirror:'ticks', showgrid:false, zeroline:false,
    minor:{dtick:mdtick, ticks:'inside', ticklen:12, tickwidth:1, tickcolor:'#555', showgrid:false},
    tickfont:{family:FONT,size:17,color:'#111'}, ticklabelstandoff:3,
    title:{text:title, font:{family:FONT,size:tsize,color:'#111'}, standoff:9}};
}
const xa3 = xAxis('y3', true);
xa3.title = {text:'Time [Years]', font:{family:FONT,size:21,color:'#111'}, standoff:2};
const layout={
  width:1327, height:1268, margin:{l:L,r:R,t:T,b:B}, paper_bgcolor:'#fff', plot_bgcolor:'#fff',
  font:{family:FONT,color:'#111'}, showlegend:false,
  xaxis:xAxis('y',false), xaxis2:xAxis('y2',false), xaxis3:xa3,
  yaxis:yAxis('x',[py(395),1],[0,225],50,10,'SIDC/SILSO Daily Sunspot Number [V2]',18.5),
  yaxis2:yAxis('x2',[py(798),py(443)],[-90,90],15,5,'Latitude [Degrees]',18),
  yaxis3:yAxis('x3',[0,py(843)],[-90,90],15,5,'Latitude [Degrees]',18),
  shapes:[
    {type:'line',xref:'paper',yref:'paper',x0:px(1190),x1:px(1258),y0:py(74),y1:py(74),line:{color:'#333',width:1}},
    {type:'line',xref:'x2 domain',yref:'y2',x0:0,x1:1,y0:55,y1:55,line:{color:'#111',width:1.3,dash:'11px,4px,2px,4px'}},
    {type:'line',xref:'x2 domain',yref:'y2',x0:0,x1:1,y0:-55,y1:-55,line:{color:'#111',width:1.3,dash:'11px,4px,2px,4px'}},
    {type:'line',xref:'x2 domain',yref:'y2',x0:0,x1:1,y0:0,y1:0,line:{color:'#555',width:2,dash:'10px,6px'}},
    {type:'line',xref:'x3 domain',yref:'y3',x0:0,x1:1,y0:55,y1:55,line:{color:'#444',width:1.6,dash:'11px,4px,2px,4px'}},
    {type:'line',xref:'x3 domain',yref:'y3',x0:0,x1:1,y0:-55,y1:-55,line:{color:'#444',width:1.6,dash:'11px,4px,2px,4px'}},
    {type:'line',xref:'x3 domain',yref:'y3',x0:0,x1:1,y0:0,y1:0,line:{color:'#444',width:2,dash:'10px,6px'}}
  ],
  annotations:[
    {text:'A) SIDC/SILSO Daily Total Sunspot Number [50-day Running Smoothing]',xref:'paper',yref:'paper',x:px(727),y:py(20),xanchor:'center',yanchor:'middle',showarrow:false,font:{family:FONT,size:20,color:'#111'}},
    {text:'B) USAF - NOAA Sunspot Distribution',xref:'paper',yref:'paper',x:px(695),y:py(421),xanchor:'center',yanchor:'middle',showarrow:false,font:{family:FONT,size:20,color:'#111'}},
    {text:'C) McIntosh et al. (2014) - “Band-O-Gram”',xref:'paper',yref:'paper',x:px(692),y:py(826),xanchor:'center',yanchor:'middle',showarrow:false,font:{family:FONT,size:20,color:'#111'}}
  ]
};
Plotly.newPlot('chart',traces,layout,{staticPlot:true,displayModeBar:false});
</script>
</body></html>
